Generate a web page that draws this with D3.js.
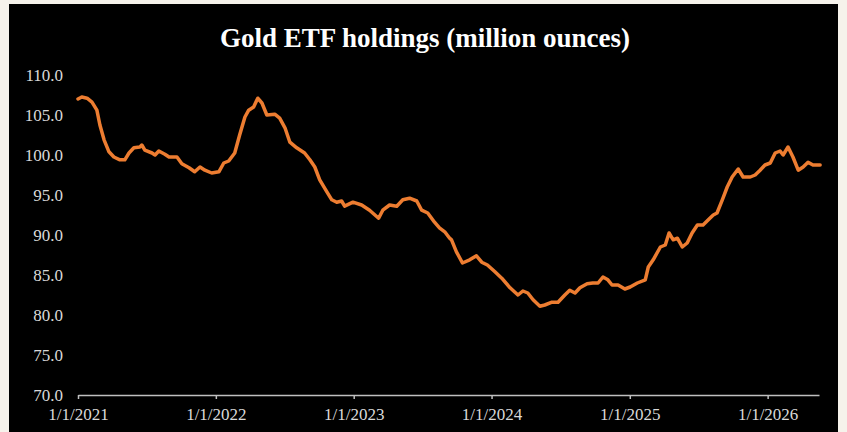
<!DOCTYPE html>
<html>
<head>
<meta charset="utf-8">
<script src="https://cdn.jsdelivr.net/npm/d3@7"></script>
<style>
  html, body { margin: 0; padding: 0; background: #f6f2eb; }
  svg { display: block; }
</style>
</head>
<body>
<svg id="chart" width="847" height="432"></svg>
<script>
// Gold ETF holdings, million ounces
const dates = [
  "2021-01-01","2021-01-11","2021-01-25","2021-02-07","2021-02-20","2021-02-28","2021-03-11","2021-03-24",
  "2021-04-06","2021-04-22","2021-05-05","2021-05-16","2021-05-29","2021-06-14","2021-06-19","2021-06-27",
  "2021-07-16","2021-07-24","2021-08-03","2021-08-19","2021-08-30","2021-09-20","2021-10-03","2021-10-22",
  "2021-11-06","2021-11-20","2021-12-03","2021-12-21",
  "2022-01-09","2022-01-22","2022-02-04","2022-02-20","2022-03-05","2022-03-19","2022-03-29","2022-04-11",
  "2022-04-22","2022-05-03","2022-05-16","2022-06-06","2022-06-19","2022-07-03","2022-07-16","2022-08-03",
  "2022-08-24","2022-09-07","2022-09-20","2022-10-03","2022-10-22","2022-11-04","2022-11-17","2022-11-30",
  "2022-12-08","2022-12-30",
  "2023-01-22","2023-02-12","2023-03-08","2023-03-19","2023-04-06","2023-04-25","2023-05-11","2023-05-29",
  "2023-06-17","2023-06-30","2023-07-16","2023-08-03","2023-08-16","2023-08-30","2023-09-12","2023-09-17",
  "2023-09-30","2023-10-16","2023-11-04","2023-11-22","2023-12-06","2023-12-21",
  "2024-01-10","2024-01-28","2024-02-19","2024-03-11","2024-03-24","2024-04-06","2024-04-20","2024-05-08",
  "2024-05-21","2024-06-09","2024-06-25","2024-07-13","2024-07-26","2024-08-09","2024-08-22","2024-09-10",
  "2024-09-25","2024-10-09","2024-10-22","2024-11-04","2024-11-15","2024-12-01","2024-12-19",
  "2025-01-02","2025-01-21","2025-02-11","2025-02-19","2025-03-04","2025-03-23","2025-04-05","2025-04-15",
  "2025-04-26","2025-05-07","2025-05-20","2025-06-02","2025-06-15","2025-06-29","2025-07-14","2025-07-28",
  "2025-08-10","2025-08-20","2025-09-03","2025-09-16","2025-09-29","2025-10-15","2025-10-28","2025-11-16",
  "2025-11-29","2025-12-12","2025-12-25",
  "2026-01-08","2026-01-21","2026-02-03","2026-02-11","2026-02-24","2026-03-09","2026-03-23","2026-04-05",
  "2026-04-18","2026-05-01","2026-05-20"
];
const holdings = [
  107.0,107.25,107.1,106.6,105.6,103.75,101.9,100.4,
  99.75,99.4,99.4,100.25,100.9,101.0,101.25,100.6,
  100.25,100.0,100.5,100.1,99.75,99.75,98.9,98.4,
  97.9,98.5,98.1,97.75,
  97.9,99.0,99.25,100.25,102.5,104.75,105.6,106.0,
  107.1,106.5,105.0,105.1,104.6,103.4,101.6,100.9,
  100.25,99.4,98.5,96.9,95.4,94.4,94.1,94.25,
  93.6,94.1,
  93.75,93.1,92.1,93.1,93.75,93.6,94.4,94.6,
  94.25,93.1,92.75,91.6,90.9,90.4,89.6,89.4,
  87.9,86.5,86.9,87.4,86.6,86.25,
  85.4,84.6,83.4,82.5,83.0,82.75,81.9,81.1,
  81.25,81.6,81.6,82.5,83.1,82.75,83.4,83.9,
  84.0,84.0,84.75,84.4,83.75,83.75,83.25,
  83.5,84.0,84.4,86.0,86.9,88.5,88.75,90.25,
  89.4,89.6,88.5,89.0,90.25,91.25,91.25,91.9,
  92.5,92.75,94.4,96.0,97.25,98.25,97.25,97.25,
  97.5,98.1,98.75,
  99.0,100.25,100.5,100.0,101.0,99.75,98.1,98.5,
  99.1,98.75,98.75
];
const yTicks = [70, 75, 80, 85, 90, 95, 100, 105, 110];
const xTicks = ["2021-01-01","2022-01-01","2023-01-01","2024-01-01","2025-01-01","2026-01-01"];
const xEnd = "2026-05-17";

const parse = d3.timeParse("%Y-%m-%d");
const data = dates.map((d, i) => ({date: parse(d), value: holdings[i]}));

const svg = d3.select("#chart");
const serif = "'Times New Roman', 'Liberation Serif', serif";

// black panel
svg.append("rect")
  .attr("x", 9).attr("y", 4)
  .attr("width", 829).attr("height", 428)
  .attr("fill", "#000");

const x = d3.scaleTime()
  .domain([parse(xTicks[0]), parse(xEnd)])
  .range([78, 819]);
const y = d3.scaleLinear()
  .domain([70, 110])
  .range([395, 75]);

// title
svg.append("text")
  .attr("x", 425).attr("y", 47)
  .attr("text-anchor", "middle")
  .attr("fill", "#fff")
  .style("font-family", serif)
  .style("font-weight", "bold")
  .style("font-size", "27px")
  .text("Gold ETF holdings (million ounces)");

// y axis: labels only
const yAxis = svg.append("g")
  .attr("transform", "translate(78,0)")
  .call(d3.axisLeft(y).tickValues(yTicks).tickFormat(d3.format(".1f")).tickSize(0).tickPadding(15));
yAxis.select(".domain").remove();
yAxis.selectAll("text")
  .attr("fill", "#d9d9d9")
  .style("font-family", serif)
  .style("font-size", "17px");

// x axis
const xAxis = svg.append("g")
  .attr("transform", "translate(0,395)")
  .call(d3.axisBottom(x)
    .tickValues(xTicks.map(parse))
    .tickFormat(d3.timeFormat("%-m/%-d/%Y"))
    .tickSize(4).tickSizeOuter(0).tickPadding(9));
xAxis.select(".domain").attr("stroke", "#bfbfbf").attr("stroke-width", 1.5);
xAxis.selectAll(".tick line").attr("stroke", "#bfbfbf").attr("stroke-width", 1.5);
xAxis.selectAll("text")
  .attr("fill", "#d9d9d9")
  .style("font-family", serif)
  .style("font-size", "17px");

// line
const line = d3.line()
  .x(d => x(d.date))
  .y(d => y(d.value));

svg.append("path")
  .datum(data)
  .attr("fill", "none")
  .attr("stroke", "#ed7d31")
  .attr("stroke-width", 3.5)
  .attr("stroke-linejoin", "round")
  .attr("stroke-linecap", "round")
  .attr("d", line);
</script>
</body>
</html>
